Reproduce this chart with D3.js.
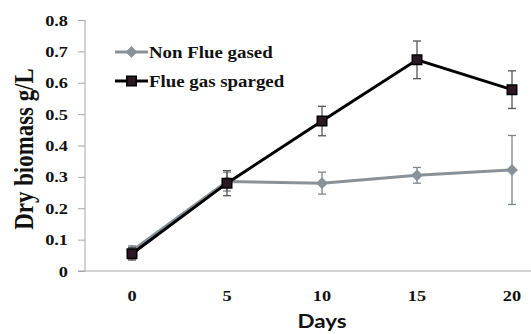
<!DOCTYPE html>
<html>
<head>
<meta charset="utf-8">
<script src="https://cdn.jsdelivr.net/npm/d3@7"></script>
<style>
  body { margin: 0; background: #fff; }
  svg { display: block; }
</style>
</head>
<body>
<script>
'use strict';

// chart values
const days = [0, 5, 10, 15, 20];
const nonFlue = [0.065, 0.285, 0.28, 0.305, 0.322];
const nonFlueErr = [0.015, 0.03, 0.035, 0.025, 0.11];
const flueGas = [0.055, 0.28, 0.478, 0.673, 0.578];
const flueGasErr = [0.02, 0.04, 0.047, 0.06, 0.06];
const yTicks = [0, 0.1, 0.2, 0.3, 0.4, 0.5, 0.6, 0.7, 0.8];
const seriesNames = ['Non Flue gased', 'Flue gas sparged'];

const width = 531;
const height = 334;
const serif = '"Liberation Serif", "Times New Roman", serif';
const stretch = 1.18; // the source picture is a bit wider than tall

const svg = d3.select('body')
  .append('svg')
  .attr('width', width)
  .attr('height', height);

// text helper, stretched sideways like the source
function addText(x, y, str, size, anchor, family) {
  return svg.append('text')
    .attr('transform', 'translate(' + x + ',' + y + ')scale(' + stretch + ',1)')
    .attr('text-anchor', anchor)
    .style('font-family', family || serif)
    .style('font-weight', 'bold')
    .style('font-size', size + 'px')
    .attr('fill', '#111')
    .text(str);
}

// scales: category axis, 95px per step, half step padding
const xScale = d3.scaleLinear().domain([0, 20]).range([132, 512]);
const yScale = d3.scaleLinear().domain([0, 0.8]).range([271, 20]);
const axisLeftX = 85;

// y axis
const yAxis = d3.axisLeft(yScale)
  .tickValues(yTicks)
  .tickSize(7)
  .tickFormat('');

const gy = svg.append('g')
  .attr('transform', 'translate(' + axisLeftX + ',0)')
  .call(yAxis);
gy.select('.domain').attr('stroke', '#a6a6a6').attr('d', 'M0,' + yScale(0.8) + 'V' + yScale(0));
gy.selectAll('.tick line').attr('stroke', '#a6a6a6');

yTicks.forEach(t => {
  addText(68, yScale(t) + 5.5, t === 0 ? '0' : d3.format('.1f')(t), 15.5, 'end');
});

// x axis line (no tick marks)
svg.append('line')
  .attr('x1', axisLeftX - 7)
  .attr('x2', width)
  .attr('y1', yScale(0))
  .attr('y2', yScale(0))
  .attr('stroke', '#a6a6a6');

days.forEach(d => {
  addText(xScale(d), 301, d, 15.5, 'middle');
});

// axis titles
svg.append('text')
  .attr('transform', 'translate(33, 149)rotate(-90)scale(' + (1 / stretch) + ',1)')
  .attr('text-anchor', 'middle')
  .style('font-family', serif)
  .style('font-weight', 'bold')
  .style('font-size', '27px')
  .attr('fill', '#111')
  .text('Dry biomass g/L');

addText(322, 328, 'Days', 19, 'middle', 'Lato, sans-serif');

// draw one series with error bars and markers
function drawSeries(values, errs, color, fill, errColor, marker) {
  const pts = days.map((d, i) => ({ day: d, v: values[i], e: errs[i] }));
  const g = svg.append('g');

  const line = d3.line()
    .x(d => xScale(d.day))
    .y(d => yScale(d.v));

  g.append('path')
    .datum(pts)
    .attr('d', line)
    .attr('fill', 'none')
    .attr('stroke', color)
    .attr('stroke-width', 3);

  const bars = g.selectAll('.err')
    .data(pts)
    .enter()
    .append('g')
    .attr('stroke', errColor)
    .attr('stroke-width', 1.3);
  bars.append('line')
    .attr('x1', d => xScale(d.day)).attr('x2', d => xScale(d.day))
    .attr('y1', d => yScale(d.v - d.e)).attr('y2', d => yScale(d.v + d.e));
  bars.append('line')
    .attr('x1', d => xScale(d.day) - 4).attr('x2', d => xScale(d.day) + 4)
    .attr('y1', d => yScale(d.v + d.e)).attr('y2', d => yScale(d.v + d.e));
  bars.append('line')
    .attr('x1', d => xScale(d.day) - 4).attr('x2', d => xScale(d.day) + 4)
    .attr('y1', d => yScale(d.v - d.e)).attr('y2', d => yScale(d.v - d.e));

  g.selectAll('.pt')
    .data(pts)
    .enter()
    .append('path')
    .attr('d', marker)
    .attr('transform', d => 'translate(' + xScale(d.day) + ',' + yScale(d.v) + ')')
    .attr('fill', fill)
    .attr('stroke', color)
    .attr('stroke-width', 1.5);
}

const diamond = d3.symbol().type(d3.symbolDiamond2).size(60)();
const square = d3.symbol().type(d3.symbolSquare).size(90)();

drawSeries(nonFlue, nonFlueErr, '#8a9299', '#8a9299', '#7d848a', diamond);
drawSeries(flueGas, flueGasErr, '#000', '#2b1822', '#555', square);

// legend
const legendRows = [
  { name: seriesNames[0], color: '#8a9299', fill: '#8a9299', marker: diamond, y: 52 },
  { name: seriesNames[1], color: '#000', fill: '#2b1822', marker: square, y: 81 }
];
legendRows.forEach(r => {
  svg.append('line')
    .attr('x1', 115).attr('x2', 148)
    .attr('y1', r.y).attr('y2', r.y)
    .attr('stroke', r.color)
    .attr('stroke-width', 3);
  svg.append('path')
    .attr('d', r.marker)
    .attr('transform', 'translate(131.5,' + r.y + ')')
    .attr('fill', r.fill)
    .attr('stroke', r.color)
    .attr('stroke-width', 1.5);
  addText(149, r.y + 5.5, r.name, 16, 'start');
});
</script>
</body>
</html>
